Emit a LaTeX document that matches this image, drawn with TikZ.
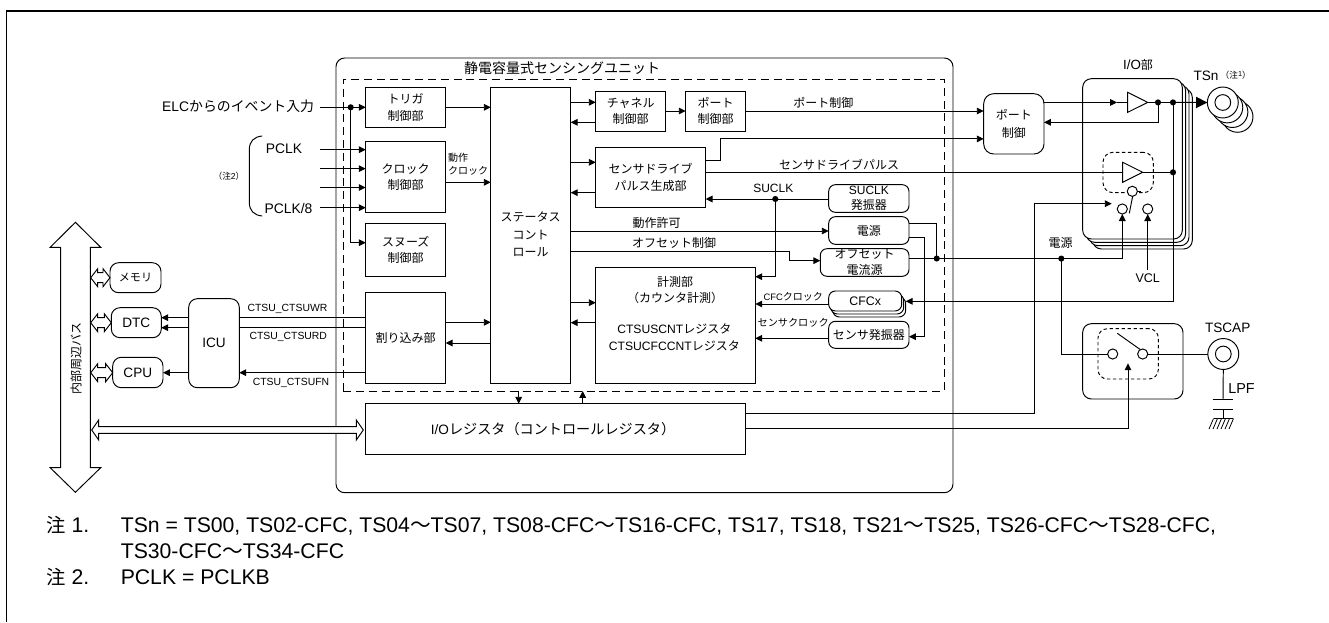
\documentclass[tikz,border=0pt]{standalone}
\usepackage{fontspec}
\setmainfont{Liberation Sans}
\newfontfamily\cjk{Noto Sans CJK JP}
\usetikzlibrary{arrows.meta}
\newcommand\F[1]{\fontsize{#1}{#1}\selectfont}
\newcommand\J[1]{{\fontsize{9}{12}\selectfont\cjk #1}}
\newcommand\Jx[2]{{\fontsize{#1}{#1}\selectfont\cjk #2}}
\newcommand\bx[6][boxn]{\node[#1,minimum width={(#4-#2)*0.75pt},minimum height={(#5-#3)*0.75pt}] (#6) at ({(#2+#4)/2},{(#3+#5)/2})}
\newcommand\hdbl[6]{\draw[wl,fill=white] (#1,#3) -- (#1+#6,#3-#4) -- (#1+#6,#3-#5) -- (#2-#6,#3-#5) -- (#2-#6,#3-#4) -- (#2,#3) -- (#2-#6,#3+#4) -- (#2-#6,#3+#5) -- (#1+#6,#3+#5) -- (#1+#6,#3+#4) -- cycle;}
\tikzset{
 wl/.style={line width=.72pt,draw=black},
 boxn/.style={wl,inner sep=0pt,outer sep=0pt,align=center,font=\fontsize{10.2}{12.2}\selectfont,fill=white},
 rnd/.style={boxn,rounded corners=6.5pt},
 rndb/.style={boxn,rounded corners=5pt},
 plain/.style={boxn,draw=none,fill=none},
 dashA/.style={line width=.7pt,dash pattern=on 6pt off 3.6pt},
 dashB/.style={line width=.7pt,dash pattern=on 2.6pt off 1.9pt},
 txt/.style={inner sep=0pt,outer sep=0pt,align=center,font=\fontsize{10.2}{12.2}\selectfont},
 lab/.style={txt,font=\fontsize{7.8}{9}\selectfont},
 arr/.style={wl,-{Triangle[length=5.2pt,width=5pt]}},
 bigarr/.style={wl,-{Triangle[length=8.5pt,width=8.5pt]}},
 dotn/.style={circle,fill=black,inner sep=0pt,outer sep=0pt,minimum size=4.6pt},
 ring/.style={circle,wl,fill=white,inner sep=0pt,outer sep=0pt,minimum size=23.2pt},
 ringin/.style={circle,wl,fill=white,inner sep=0pt,outer sep=0pt,minimum size=11.8pt},
 sw/.style={circle,wl,fill=white,inner sep=0pt,outer sep=0pt,minimum size=7.6pt},
 note/.style={txt,anchor=base west,font=\fontsize{15.9}{16}\selectfont},
}
\begin{document}
\begin{tikzpicture}[x=0.75pt,y=-0.75pt]
\useasboundingbox (0,0) rectangle (1329,622);
% frame
\draw[wl,line width=1pt] (6.7,622) -- (6.7,11) -- (1329,11);
% unit
\bx[rnd,fill=none]{336}{58}{953}{492.7}{unit}{};
\bx[boxn,dashA,fill=none]{343.3}{79}{944}{391}{dash}{};
\node[txt,font=\fontsize{10.5}{12}\selectfont] (title) at (562,68) {\Jx{10.5}{静電容量式センシングユニット}};
% left column
\bx{365.7}{87.7}{445.7}{127.3}{trig}{\J{トリガ}\\\J{制御部}};
\bx{365.7}{141.3}{445.7}{212.3}{clk}{\J{クロック}\\\J{制御部}};
\bx{365.7}{223.3}{445.7}{276.3}{snz}{\J{スヌーズ}\\\J{制御部}};
\bx{365.7}{292}{445.7}{383}{intr}{\J{割り込み部}};
\bx{490.7}{87.7}{570.7}{383.7}{stat}{};
\node[txt] (stattxt) at (530.7,234.3) {\J{ステータス}\\[.6pt]\J{コント}\\[.6pt]\J{ロール}};
\bx{595.7}{91.3}{665.7}{131}{chan}{\J{チャネル}\\\J{制御部}};
\bx{685.7}{91.3}{745.7}{131}{pctl}{\J{ポート}\\\J{制御部}};
\bx{595.7}{147.7}{705.7}{207.3}{drv}{\J{センサドライブ}\\[1pt]\J{パルス生成部}};
\bx[rndb]{828.7}{184.7}{909}{212.3}{osc}{\F{9}SUCLK\\[-1pt]\J{発振器}};
\bx[rndb]{828.7}{216.7}{909}{244.3}{pwr}{\J{電源}};
\bx[rndb]{820.3}{248.7}{909}{276.3}{ofs}{\J{オフセット}\\\J{電流源}};
\bx{595.7}{267.7}{755.3}{383.7}{meas}{};
\node[txt] (m1) at (675,290.3) {\J{計測部}\\\J{（カウンタ計測）}};
\node[txt,font=\fontsize{9.1}{12.2}\selectfont] (m2) at (674.3,337.5) {CTSUSCNT\J{レジスタ}\\CTSUCFCCNT\J{レジスタ}};
\bx[rndb]{832.7}{297}{905.7}{317}{cfc3}{};
\bx[rndb]{830.7}{294}{903.7}{314}{cfc2}{};
\bx[rndb]{828.7}{291}{901.7}{311}{cfc}{\F{9.3}CFCx};
\bx[rndb]{828.7}{321.3}{909}{348.3}{sosc}{\J{センサ発振器}};
\bx{365.7}{403.7}{745.7}{454}{ioreg}{I/O\Jx{10.6}{レジスタ（コントロールレジスタ）}\hspace*{4pt}};
% left side
\draw[wl,fill=white] (75.4,222.3) -- (100.7,247.3) -- (90.4,247.3) -- (90.4,467.7) -- (100.7,467.7) -- (75.4,492.3) -- (50.2,467.7) -- (60.6,467.7) -- (60.6,247.3) -- (50.2,247.3) -- cycle;
\node[txt,rotate=90] (bus) at (76,358) {\J{内部周辺バス}};
\bx[rnd]{110}{262.7}{161}{292.7}{mem}{\Jx{8.3}{メモリ}};
\bx[rnd]{111.3}{307.7}{161.3}{337.7}{dtc}{DTC};
\bx[rnd]{112.7}{357.3}{163}{387.7}{cpu}{CPU};
\bx[rnd]{188.7}{298.7}{239.3}{387.7}{icu}{ICU};
\hdbl{90.7}{110}{277.7}{9}{5}{7}
\hdbl{90.7}{111.3}{322.7}{9}{5}{7}
\hdbl{90.7}{112.7}{372.7}{9}{5}{7}
\hdbl{91.7}{363.3}{430}{10}{3.4}{7}
% input labels
\node[txt,anchor=east] (elc) at (314,106.7) {\fontsize{10.4}{12}\selectfont ELC\Jx{10.4}{からのイベント入力}};
\node[txt,font=\fontsize{10.4}{12}\selectfont] (pclk) at (284,148.3) {PCLK};
\node[txt,font=\fontsize{10.4}{12}\selectfont] (pclk8) at (288.5,208.3) {PCLK/8};
\node[txt] (n2) at (229,176.7) {\Jx{6.5}{（注}\F{6.5}2\Jx{6.5}{）}};
\draw[wl,line cap=round] (262,136) .. controls (254,137) and (249.3,141) .. (249.3,150) -- (249.3,202) .. controls (249.3,211) and (254,215) .. (262,216);
\coordinate (e0) at (320,107.3);
\coordinate (p1) at (320,149.7);
\coordinate (p2) at (320,168.6);
\coordinate (p3) at (320,187.5);
\coordinate (p4) at (320,207.7);
\node[dotn] (d0) at (350.7,107.3) {};
\draw[arr] (e0) -- (trig.west |- e0);
\draw[arr] (d0.center) |- (snz.west |- 0,242.7);
\draw[arr] (p1) -- (clk.west |- p1);
\draw[arr] (p2) -- (clk.west |- p2);
\draw[arr] (p3) -- (clk.west |- p3);
\draw[arr] (p4) -- (clk.west |- p4);
\draw[arr] (trig.east |- 0,107.3) -- (stat.west |- 0,107.3);
\draw[arr] (clk.east |- 0,182.3) -- (stat.west |- 0,182.3);
\node[txt,anchor=west,align=left,font=\fontsize{7.5}{10.2}\selectfont] (dclk) at (448,164) {\Jx{7.5}{動作}\\\Jx{7.5}{クロック}};
\draw[arr] (intr.east |- 0,322.3) -- (stat.west |- 0,322.3);
\draw[arr] (stat.west |- 0,343) -- (intr.east |- 0,343);
% interrupts
\draw[wl] (intr.west |- 0,317.7) -- (icu.east |- 0,317.7);
\draw[wl] (intr.west |- 0,327.7) -- (icu.east |- 0,327.7);
\draw[arr] (intr.west |- 0,372.7) -- (icu.east |- 0,372.7);
\draw[arr] (icu.west |- 0,317.7) -- (dtc.east |- 0,317.7);
\draw[arr] (icu.west |- 0,327.7) -- (dtc.east |- 0,327.7);
\draw[arr] (icu.west |- 0,372.7) -- (cpu.east |- 0,372.7);
\node[lab] (wr) at (287.5,309.3) {CTSU\_CTSUWR};
\node[lab] (rd) at (288.3,337.3) {CTSU\_CTSURD};
\node[lab] (fn) at (291,383.3) {CTSU\_CTSUFN};
% status connections
\draw[arr] (stat.east |- 0,102.3) -- (chan.west |- 0,102.3);
\draw[arr] (chan.west |- 0,122.3) -- (stat.east |- 0,122.3);
\draw[arr] (chan.east |- 0,111) -- (pctl.west |- 0,111);
\draw[arr] (stat.east |- 0,162.3) -- (drv.west |- 0,162.3);
\draw[arr] (drv.west |- 0,192.7) -- (stat.east |- 0,192.7);
\draw[arr] (stat.east |- 0,231) -- (pwr.west |- 0,231);
\draw[arr] (stat.east |- 0,251) -- (789,251) -- (789,260.7) -- (ofs.west |- 0,260.7);
\draw[arr] (stat.east |- 0,302.7) -- (meas.west |- 0,302.7);
\draw[arr] (meas.west |- 0,322.7) -- (stat.east |- 0,322.7);
\node[txt] (lperm) at (656.7,223.3) {\J{動作許可}};
\node[txt] (lofs) at (674,243.3) {\J{オフセット制御}};
\draw[arr] (518.7,391) -- (518.7,403.7);
\draw[arr] (582.7,403.7) -- (582.7,391);
% osc
\node[dotn] (d1) at (775.3,199) {};
\draw[arr] (osc.west |- 0,199) -- (drv.east |- 0,199);
\draw[arr] (d1.center) |- (meas.east |- 0,276.7);
\node[txt,font=\fontsize{9}{12}\selectfont] (lsu) at (773.3,188.7) {SUCLK};
\draw[arr] (cfc.west |- 0,304) -- (meas.east |- 0,304);
\draw[arr] (sosc.west |- 0,338.3) -- (meas.east |- 0,338.3);
\node[txt,anchor=west] (lcfc) at (763.7,296.5) {\F{7}CFC\Jx{7.5}{クロック}};
\node[txt,anchor=west] (lsen) at (757.7,323) {\Jx{7.6}{センサクロック}};
% power
\node[dotn] (d2) at (936.7,258.5) {};
\draw[wl] (pwr.east |- 0,223.3) -| (d2.center);
\draw[arr] (pwr.east |- 0,237.7) -- (924,237.7) -- (924,336.7) -- (sosc.east |- 0,336.7);
% I/O
\bx[rnd]{1092.7}{88.7}{1192.3}{249}{io3}{};
\bx[rnd]{1089.4}{85.4}{1189}{245.7}{io2}{};
\bx[rnd]{1086}{82}{1185.6}{242.3}{io1}{};
\bx[rnd]{1082.7}{78.7}{1182.3}{239}{io}{};
\node[txt] (lio) at (1138,65) {\fontsize{10}{12}\selectfont I/O\J{部}};
\bx[rnd,rounded corners=7.5pt]{983.7}{93.7}{1044}{154}{pbox}{\J{ポート}\\[1.3pt]\J{制御}};
\draw[arr] (pctl.east |- 0,111) -- (pbox.west |- 0,111);
\draw[wl] (drv.east |- 0,160.7) -- (720,160.7) -- (720,138.9);
\draw[arr] (720,138.9) -- (pbox.west |- 0,138.9);
\node[txt] (lpc) at (823.3,103.3) {\J{ポート制御}};
\node[txt] (lds) at (839,164.3) {\J{センサドライブパルス}};
% drivers
\coordinate (t1a) at (1127.7,92.3);
\coordinate (t1b) at (1127.7,112.3);
\coordinate (t1c) at (1147.7,102.4);
\coordinate (t1w) at (1127.7,102.4);
\coordinate (t2a) at (1122.7,162.3);
\coordinate (t2b) at (1122.7,182.3);
\coordinate (t2c) at (1142.7,172.3);
\coordinate (t2w) at (1122.7,172.3);
\node[dotn] (d3) at (1158,102.4) {};
\node[dotn] (d4) at (1173,102.4) {};
\node[dotn] (d5) at (1173,172.3) {};
\draw[arr] (pbox.east |- t1w) -- (1117,102.4);
\draw[wl] (1117,102.4) -- (t1w);
\draw[wl] (t1a) -- (t1c) -- (t1b) -- cycle;
\draw[arr] (d3.center) |- (pbox.east |- 0,122.3);
\draw[wl] (d4.center) |- (d5.center);
\draw[wl] (t1c) -- (d3.center) -- (d4.center);
\bx[rnd,dashB,fill=none,rounded corners=7.5pt]{1103}{152.3}{1153.3}{192.7}{dbox}{};
\draw[wl] (drv.east |- t2w) -- (t2w);
\draw[wl] (t2a) -- (t2c) -- (t2b) -- cycle;
\draw[wl] (t2c) -- (d5.center);
\node[sw] (s1) at (1132.3,191.3) {};
\node[sw] (s2) at (1122.3,209) {};
\node[sw] (s3) at (1147.7,209) {};
\draw[wl] (s1.east) -- (1141,191.3);
\draw[wl] (1129.3,213.3) -- (1132.7,196);
\node[dotn] (d6) at (1061.3,258.6) {};
\draw[arr] (ofs.east |- 0,258.6) -- (1122.3,258.6) -- (s2.south);
\coordinate (vcl) at (1147.7,270);
\draw[arr] (vcl) -- (s3.south);
\node[txt,font=\fontsize{9.4}{12}\selectfont] (lvcl) at (1147.7,277.7) {VCL};
\node[txt] (lpw) at (1060.5,242.5) {\J{電源}};
% TSn
\node[ring] (r3) at (1237.5,116.8) {};
\node[ringin] (ri3) at (1237.5,116.8) {};
\node[ring] (r2) at (1232.4,112) {};
\node[ringin] (ri2) at (1232.4,112) {};
\node[ring] (r1) at (1227.3,107.4) {};
\node[ringin] (ri1) at (1227.3,107.4) {};
\node[ring] (r0) at (1222.8,102.5) {};
\node[ringin] (ri0) at (1222.8,102.5) {};
\draw[bigarr] (d4.center) -- (r0.west);
\node[txt] (ltsn) at (1206,76) {TSn};
\node[txt] (ln1) at (1235.7,75) {\Jx{6.5}{（注}\raisebox{1.6pt}{\F{5.5}1}\Jx{6.5}{）}};
% CFC return
\draw[arr] (d4.center) |- (cfc3.east |- 0,301.3);
% switch box
\bx[rnd,fill=none]{1082.7}{323.7}{1183}{399}{swb}{};
\bx[rnd,dashB,fill=none,rounded corners=7pt]{1098}{328.7}{1158.3}{379}{swd}{};
\node[sw] (c1) at (1112.7,354) {};
\node[sw] (c2) at (1142.7,354) {};
\draw[wl] (1117.3,333.3) -- (1140.2,349.5);
\node[ring] (tc) at (1223.3,354) {};
\node[ringin] (tci) at (1223.3,354) {};
\draw[wl] (d6.center) |- (c1.west);
\draw[wl] (c2.east) -- (tc.west);
\node[txt,font=\fontsize{10.2}{12}\selectfont] (ltc) at (1227.7,327.7) {TSCAP};
\node[txt,anchor=west,font=\fontsize{10.8}{12}\selectfont] (llpf) at (1228.3,388.3) {LPF};
\coordinate (cp1) at (1223,399);
\coordinate (cp2) at (1223,409);
\coordinate (gnd) at (1223,418.5);
\draw[wl] (tc.south) -- (cp1);
\draw[wl] (1212.7,399) -- (1233.3,399);
\draw[wl] (1212.7,409) -- (1233.3,409);
\draw[wl] (cp2) -- (gnd);
\draw[wl,line width=.6pt] (1213.5,418.5) -- (1233.3,418.5);
\foreach \h in {0,4,8,12,16,20}{\draw[line width=.6pt] (1213.5+\h,418.5) -- ++(-4.5,10.5);}
% register lines
\draw[wl] (ioreg.east |- 0,413.7) -- (1034,413.7) -- (1034,203.7);
\draw[arr] (1034,203.7) -- (1111.7,203.7);
\draw[wl] (ioreg.east |- 0,428.7) -- (1128,428.7);
\draw[arr] (1128,428.7) -- (1128,363.3);
% notes
\node[note] (nn1) at (46.3,532) {\Jx{14.5}{注} 1.};
\node[note] (nt1) at (120.8,532) {TSn = TS00, TS02-CFC, TS04\Jx{15.5}{～}TS07, TS08-CFC\Jx{15.5}{～}TS16-CFC, TS17, TS18, TS21\Jx{15.5}{～}TS25, TS26-CFC\Jx{15.5}{～}TS28-CFC,};
\node[note] (nt2) at (120.8,558) {TS30-CFC\Jx{15.5}{～}TS34-CFC};
\node[note] (nn2) at (46.3,584) {\Jx{14.5}{注} 2.};
\node[note] (nt3) at (120.8,584) {PCLK = PCLKB};
\end{tikzpicture}
\end{document}
